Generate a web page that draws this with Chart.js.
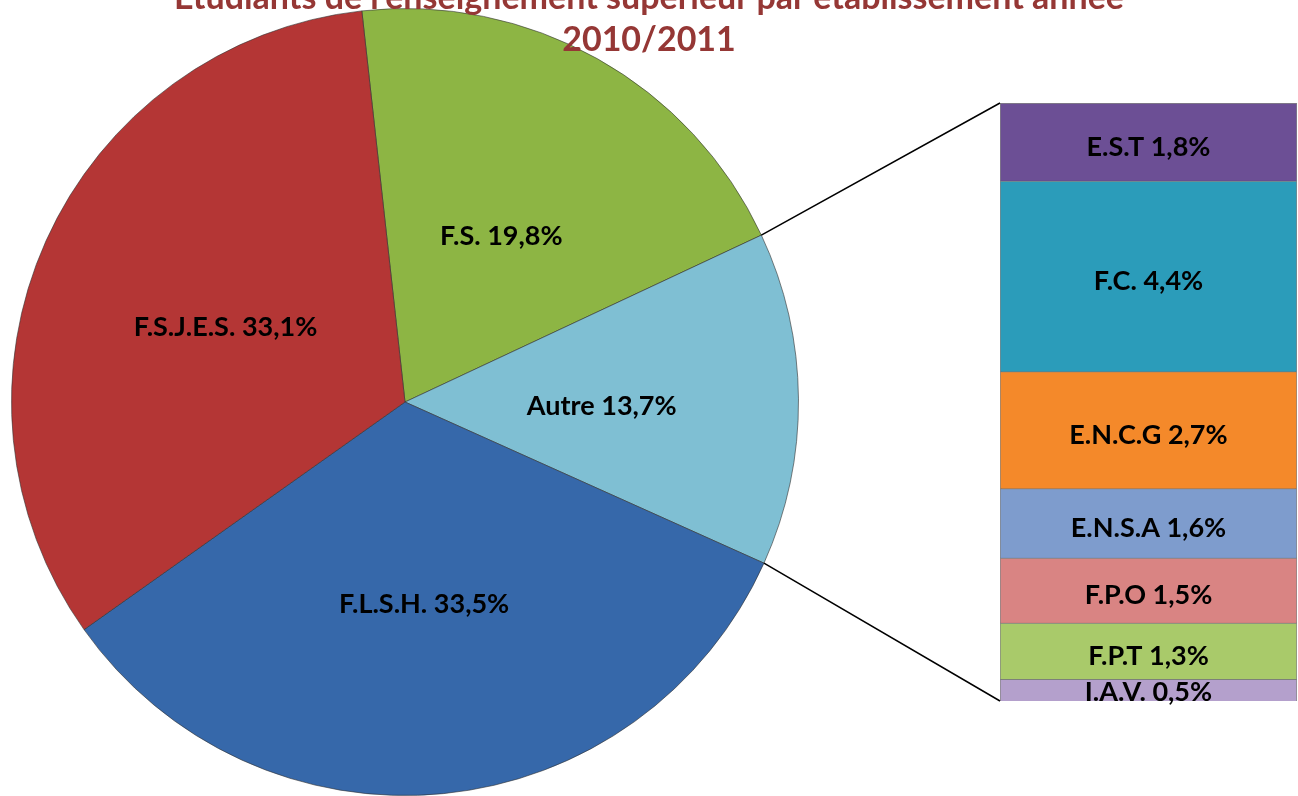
<!DOCTYPE html>
<html>
<head>
<meta charset="utf-8">
<script src="https://cdn.jsdelivr.net/npm/chart.js@4.4.1/dist/chart.umd.min.js"></script>
<style>
  html, body { margin: 0; padding: 0; background: #ffffff; overflow: hidden; }
  #wrap { position: relative; width: 1298px; height: 796px; overflow: hidden; }
  #pie { position: absolute; left: 0; top: 0; }
  #barBox { position: absolute; left: 1000px; top: 103px; width: 297px; height: 612px; }
  #over { position: absolute; left: 0; top: 0; pointer-events: none; }
  #title { position: absolute; left: 0; width: 1298px; top: -25px; text-align: center;
           font-family: Lato, "Liberation Sans", sans-serif; font-weight: bold; font-size: 34px;
           line-height: 42px; color: #953735; }
</style>
</head>
<body>
<div id="wrap">
  <canvas id="pie" width="1298" height="796"></canvas>
  <div id="barBox"><canvas id="bar" width="297" height="612"></canvas></div>
  <canvas id="over" width="1298" height="796"></canvas>
  <div id="title">Etudiants de l'enseignement supérieur par établissement année<br>2010/2011</div>
</div>
<script>
// ---- data ----
const pieLabels = ["F.S.", "Autre", "F.L.S.H.", "F.S.J.E.S."];
const pieValues = [19.8, 13.7, 33.5, 33.1];
const pieColors = ["#8DB544", "#7FBFD3", "#3668AA", "#B43635"];

const barLabels = ["E.S.T", "F.C.", "E.N.C.G", "E.N.S.A", "F.P.O", "F.P.T", "I.A.V."];
const barValues = [1.8, 4.4, 2.7, 1.6, 1.5, 1.3, 0.5];
const barColors = ["#6C4F95", "#2B9CBA", "#F4892A", "#7E9CCD", "#D98483", "#A9CA6A", "#B4A0CC"];

function fmt(v) { return v.toFixed(1).replace(".", ",") + "%"; }

const labelFont = 'bold 27px Lato, "Liberation Sans", sans-serif';

const pieLabelPlugin = {
  id: "pieLabels",
  afterDatasetsDraw(chart) {
    const ctx = chart.ctx;
    const meta = chart.getDatasetMeta(0);
    ctx.save();
    ctx.font = labelFont;
    ctx.fillStyle = "#000";
    ctx.textAlign = "center";
    ctx.textBaseline = "middle";
    meta.data.forEach((arc, i) => {
      const p = arc.tooltipPosition();
      ctx.fillText(pieLabels[i] + " " + fmt(pieValues[i]), p.x, p.y + 6);
    });
    ctx.restore();
  }
};

const pieChart = new Chart(document.getElementById("pie"), {
  type: "pie",
  data: {
    labels: pieLabels,
    datasets: [{
      data: pieValues,
      backgroundColor: pieColors,
      borderColor: "rgba(50,50,50,0.6)",
      borderWidth: 1
    }]
  },
  options: {
    responsive: false,
    animation: false,
    rotation: -6.3,
    layout: { padding: { left: 10, top: 8, right: 498, bottom: 0 } },
    plugins: { legend: { display: false }, tooltip: { enabled: false }, title: { display: false } }
  },
  plugins: [pieLabelPlugin]
});

// stacked bar: bottom segment first
const order = barLabels.map((_, i) => i).reverse();

const barLabelPlugin = {
  id: "barLabels",
  afterDatasetsDraw(chart) {
    const ctx = chart.ctx;
    ctx.save();
    ctx.font = labelFont;
    ctx.fillStyle = "#000";
    ctx.textAlign = "center";
    ctx.textBaseline = "middle";
    chart.data.datasets.forEach((ds, di) => {
      const el = chart.getDatasetMeta(di).data[0];
      const idx = order[di];
      const dy = idx === barLabels.length - 1 ? 2 : 5;
      ctx.fillText(barLabels[idx] + " " + fmt(barValues[idx]), el.x, (el.y + el.base) / 2 + dy);
    });
    ctx.restore();
  }
};

const barChart = new Chart(document.getElementById("bar"), {
  type: "bar",
  data: {
    labels: ["Autre"],
    datasets: order.map(i => ({
      label: barLabels[i],
      data: [barValues[i]],
      backgroundColor: barColors[i],
      borderColor: "rgba(50,50,50,0.6)",
      borderWidth: 1,
      barPercentage: 1,
      categoryPercentage: 1
    }))
  },
  options: {
    responsive: false,
    animation: false,
    layout: { padding: { top: 0, left: 0, right: 0, bottom: 14 } },
    scales: {
      x: { stacked: true, display: false },
      y: { stacked: true, display: false, min: 0, max: barValues.reduce((a, b) => a + b, 0) }
    },
    plugins: { legend: { display: false }, tooltip: { enabled: false } }
  },
  plugins: [barLabelPlugin]
});

// connector lines
(function drawConnectors() {
  const ctx = document.getElementById("over").getContext("2d");
  const arc = pieChart.getDatasetMeta(0).data[1];
  const r = arc.outerRadius;
  const p1 = { x: arc.x + r * Math.cos(arc.startAngle), y: arc.y + r * Math.sin(arc.startAngle) };
  const p2 = { x: arc.x + r * Math.cos(arc.endAngle), y: arc.y + r * Math.sin(arc.endAngle) };
  const box = document.getElementById("barBox");
  const ox = box.offsetLeft, oy = box.offsetTop;
  const n = barChart.data.datasets.length;
  const topEl = barChart.getDatasetMeta(n - 1).data[0];
  const botEl = barChart.getDatasetMeta(0).data[0];
  const left = ox + topEl.x - topEl.width / 2;
  ctx.strokeStyle = "#000";
  ctx.lineWidth = 1.5;
  ctx.beginPath();
  ctx.moveTo(p1.x, p1.y); ctx.lineTo(left, oy + topEl.y);
  ctx.moveTo(p2.x, p2.y); ctx.lineTo(left, oy + botEl.base);
  ctx.stroke();
})();
</script>
</body>
</html>
